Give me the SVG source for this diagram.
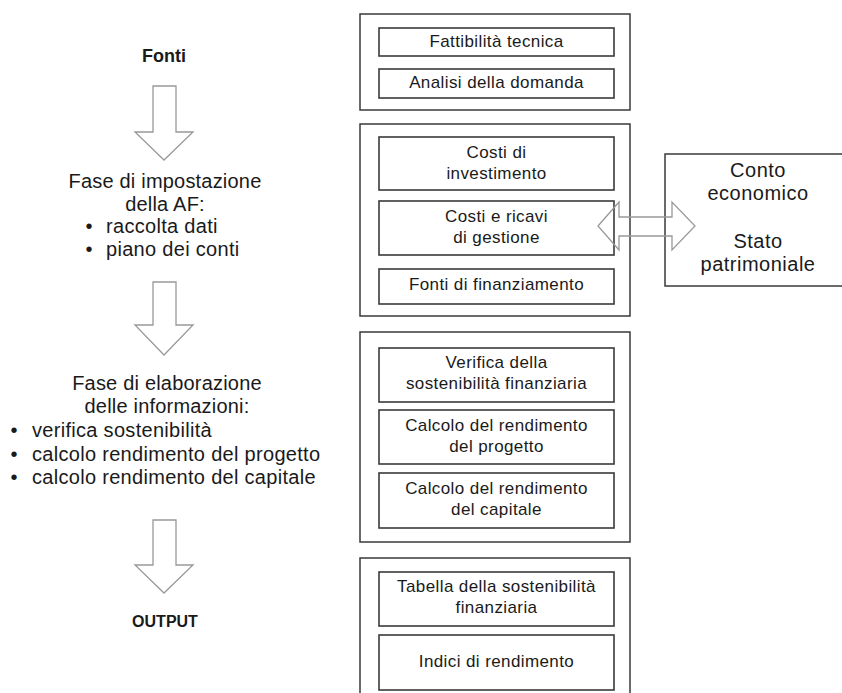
<svg xmlns="http://www.w3.org/2000/svg" width="842" height="693" viewBox="0 0 842 693">
<style>
text{font-family:"Liberation Sans",Arial,sans-serif;fill:#1a1a1a}
.l{font-size:20px;letter-spacing:0.2px;text-anchor:middle}
.lb{font-size:20px;letter-spacing:0.3px}
.bul{font-size:20px;text-anchor:middle}
.h{font-size:18px;text-anchor:middle;font-weight:bold}
.i{font-size:17px;letter-spacing:0.4px;text-anchor:middle}
.r{font-size:20px;letter-spacing:0.5px;text-anchor:middle}
.outer{fill:none;stroke:#3a3a3a;stroke-width:1.5}
.inner{fill:#fff;stroke:#3a3a3a;stroke-width:1.6}
.arr{fill:#fff;stroke:#999;stroke-width:1.3}
.darr{fill:none;stroke:#999;stroke-width:1.3}
</style>
<rect width="842" height="693" fill="#fff"/>
<g id="left">
<g id="fonti"><text class="h" x="164" y="62">Fonti</text></g>
<g id="impostazione">
<text class="l" x="165" y="188">Fase di impostazione</text>
<text class="l" x="165" y="211">della AF:</text>
<text class="bul" x="89" y="233">•</text><text class="lb" x="106" y="233">raccolta dati</text>
<text class="bul" x="89" y="256">•</text><text class="lb" x="106" y="256">piano dei conti</text>
</g>
<g id="elaborazione">
<text class="l" x="167" y="390">Fase di elaborazione</text>
<text class="l" x="167" y="413">delle informazioni:</text>
<text class="bul" x="14" y="437">•</text><text class="lb" x="32" y="437">verifica sostenibilità</text>
<text class="bul" x="14" y="461">•</text><text class="lb" x="32" y="461">calcolo rendimento del progetto</text>
<text class="bul" x="14" y="484">•</text><text class="lb" x="32" y="484">calcolo rendimento del capitale</text>
</g>
<g id="output"><text class="h" x="165" y="627" style="font-size:16px">OUTPUT</text></g>
</g>
<g id="connectors">
<polygon class="arr" points="153,86 176,86 176,132 193,132 164,160 135,132 153,132"/>
<polygon class="arr" points="153,282 176,282 176,325 193,325 164,355 135,325 153,325"/>
<polygon class="arr" points="153,520 176,520 176,565 193,565 164,593 135,565 153,565"/>
</g>
<g id="box1">
<rect class="outer" x="360" y="14" width="270" height="96"/>
<g id="fattibilita"><rect class="inner" x="379" y="28" width="235" height="28"/><text class="i" x="496.5" y="47">Fattibilità tecnica</text></g>
<g id="analisi"><rect class="inner" x="379" y="69" width="235" height="29"/><text class="i" x="496.5" y="88">Analisi della domanda</text></g>
</g>
<g id="box2">
<rect class="outer" x="360" y="124" width="270" height="192"/>
<g id="costi-inv"><rect class="inner" x="379" y="137" width="235" height="53"/><text class="i" x="496.5" y="158">Costi di</text><text class="i" x="496.5" y="179">investimento</text></g>
<g id="costi-ric"><rect class="inner" x="379" y="201" width="235" height="54"/><text class="i" x="496.5" y="222">Costi e ricavi</text><text class="i" x="496.5" y="243">di gestione</text></g>
<g id="fonti-fin"><rect class="inner" x="379" y="269" width="235" height="35"/><text class="i" x="496.5" y="290">Fonti di finanziamento</text></g>
</g>
<g id="box3">
<rect class="outer" x="360" y="332" width="270" height="210"/>
<g id="verifica"><rect class="inner" x="379" y="348" width="235" height="54"/><text class="i" x="496.5" y="368">Verifica della</text><text class="i" x="496.5" y="389">sostenibilità finanziaria</text></g>
<g id="calc-prog"><rect class="inner" x="379" y="410" width="235" height="54"/><text class="i" x="496.5" y="431">Calcolo del rendimento</text><text class="i" x="496.5" y="452">del progetto</text></g>
<g id="calc-cap"><rect class="inner" x="379" y="473" width="235" height="55"/><text class="i" x="496.5" y="494">Calcolo del rendimento</text><text class="i" x="496.5" y="515">del capitale</text></g>
</g>
<g id="box4">
<rect class="outer" x="360" y="558" width="270" height="150"/>
<g id="tabella"><rect class="inner" x="379" y="572" width="235" height="54"/><text class="i" x="496.5" y="592">Tabella della sostenibilità</text><text class="i" x="496.5" y="613">finanziaria</text></g>
<g id="indici"><rect class="inner" x="379" y="635" width="235" height="55"/><text class="i" x="496.5" y="667">Indici di rendimento</text></g>
</g>
<g id="conto">
<rect class="outer" x="665" y="154" width="190" height="132"/>
<text class="r" x="758" y="177">Conto</text>
<text class="r" x="758" y="200">economico</text>
<text class="r" x="758" y="248">Stato</text>
<text class="r" x="758" y="271">patrimoniale</text>
</g>
<g id="connector-double">
<polygon class="darr" points="598,226 619,202 619,217 672,217 672,202 695,226 672,250 672,236 619,236 619,250"/>
</g>
</svg>
